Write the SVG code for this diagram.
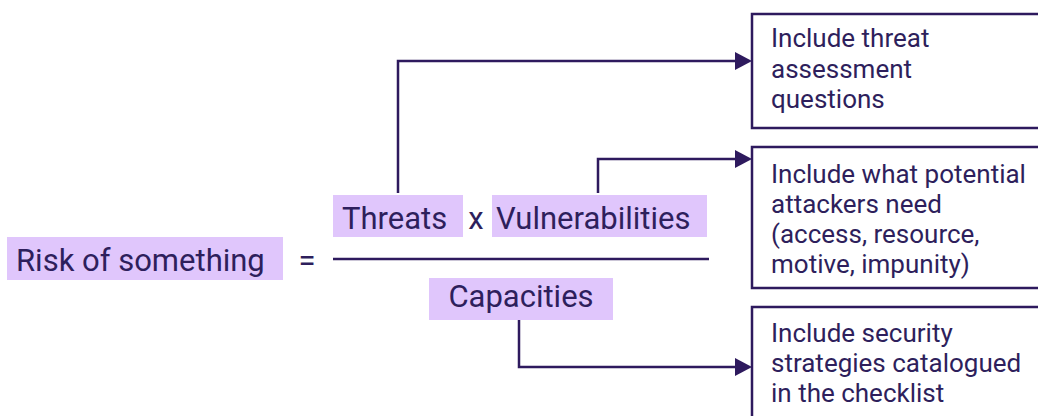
<svg xmlns="http://www.w3.org/2000/svg" width="1038" height="416" viewBox="0 0 1038 416">
<style>
.hl{fill:#e0c6fc}
.t{font-family:Roboto,"Liberation Sans",sans-serif;fill:#2e1f5c}
.big{font-size:31px}
.sm{font-size:26px}
.box{fill:#fff;stroke:#2e1a5e;stroke-width:2.5}
.ln{fill:none;stroke:#2e1a5e;stroke-width:2.5}
</style>
<rect width="1038" height="416" fill="#fff"/>
<g id="connectors">
<path class="ln" d="M398,193 V61 H742"/>
<path class="ln" d="M598,193 V159 H742"/>
<path class="ln" d="M519,320 V367 H742"/>
<line class="ln" x1="333" y1="259" x2="709" y2="259"/>
</g>
<g id="risk">
<rect class="hl" x="7" y="237" width="276" height="43"/>
<text class="t big" x="16" y="271">Risk of something</text>
</g>
<text class="t big" x="307" y="271" text-anchor="middle">=</text>
<g id="threats">
<rect class="hl" x="333" y="195" width="130" height="42"/>
<text class="t big" x="342" y="229">Threats</text>
</g>
<text class="t big" x="476" y="229" text-anchor="middle">x</text>
<g id="vulnerabilities">
<rect class="hl" x="492" y="195" width="215" height="42"/>
<text class="t big" x="496" y="229">Vulnerabilities</text>
</g>
<g id="capacities">
<rect class="hl" x="429" y="278" width="184" height="42"/>
<text class="t big" x="521" y="307" text-anchor="middle">Capacities</text>
</g>
<g id="box1">
<rect class="box" x="752" y="14" width="300" height="114"/>
<text class="t sm" x="771" y="47">Include threat</text>
<text class="t sm" x="771" y="78">assessment</text>
<text class="t sm" x="771" y="108">questions</text>
</g>
<g id="box2">
<rect class="box" x="752" y="147" width="300" height="141"/>
<text class="t sm" x="771" y="183">Include what potential</text>
<text class="t sm" x="771" y="213">attackers need</text>
<text class="t sm" x="771" y="243">(access, resource,</text>
<text class="t sm" x="771" y="273">motive, impunity)</text>
</g>
<g id="box3">
<rect class="box" x="752" y="307" width="300" height="130"/>
<text class="t sm" x="771" y="342">Include security</text>
<text class="t sm" x="771" y="372">strategies catalogued</text>
<text class="t sm" x="771" y="402">in the checklist</text>
</g>
<g id="arrowheads">
<path d="M735,52 L752,61 L735,70 z" fill="#2e1a5e"/>
<path d="M735,150 L752,159 L735,168 z" fill="#2e1a5e"/>
<path d="M735,358 L752,367 L735,376 z" fill="#2e1a5e"/>
</g>
</svg>
